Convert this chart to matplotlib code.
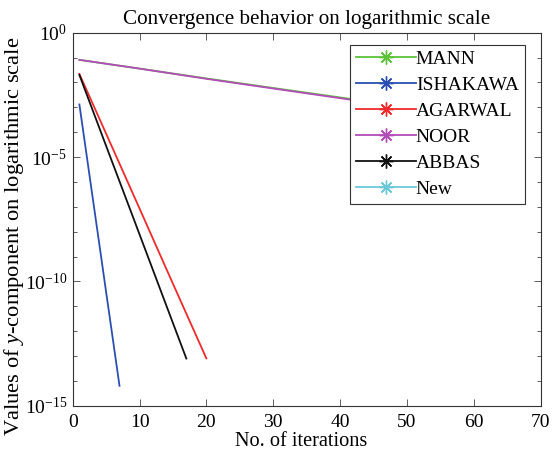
import matplotlib
matplotlib.use("Agg")
import matplotlib.pyplot as plt
import matplotlib.ticker as mticker
from matplotlib.lines import Line2D

plt.rcParams['font.family'] = ['Liberation Serif', 'DejaVu Serif']
plt.rcParams['mathtext.fontset'] = 'custom'
plt.rcParams['mathtext.rm'] = 'Liberation Serif'
plt.rcParams['mathtext.it'] = 'Liberation Serif:italic'

# Data
mann_n = [1, 10, 20, 30, 42, 60]
mann_y = [8.1e-2, 3.6e-2, 1.45e-2, 6.0e-3, 2.1e-3, 4.3e-4]

ishakawa_n = [1, 2, 3, 4, 5, 6, 7]
ishakawa_y = [1.3e-3, 1.7e-5, 2.2e-7, 2.9e-9, 3.7e-11, 4.9e-13, 6.3e-15]

agarwal_n = [1, 5, 10, 15, 20]
agarwal_y = [2.2e-2, 8.7e-5, 8.5e-8, 8.0e-11, 8.0e-14]

noor_n = [1, 10, 20, 30, 42, 60]
noor_y = [8.1e-2, 3.6e-2, 1.4e-2, 5.7e-3, 1.95e-3, 3.8e-4]

abbas_n = [1, 5, 9, 13, 17]
abbas_y = [2.0e-2, 2.8e-5, 4.0e-8, 5.6e-11, 7.9e-14]

new_n = [1, 2, 3]
new_y = [1e-16, 1e-18, 1e-20]

series = [
    ("MANN", mann_n, mann_y, "#5DC23A"),
    ("ISHAKAWA", ishakawa_n, ishakawa_y, "#2A4FB0"),
    ("AGARWAL", agarwal_n, agarwal_y, "#F02A2A"),
    ("NOOR", noor_n, noor_y, "#B24CB8"),
    ("ABBAS", abbas_n, abbas_y, "#111111"),
    ("New", new_n, new_y, "#6CC8D8"),
]

fig = plt.figure(figsize=(5.55, 4.53), dpi=100)
ax = fig.add_axes([0.131, 0.1044, 0.843, 0.8234])

for name, n, y, c in series:
    ax.plot(n, y, color=c, lw=1.3, label=name)

ax.set_yscale('log')
ax.set_xlim(0, 70)
ax.set_ylim(1e-15, 1e0)
ax.set_xticks(range(0, 71, 10))
ax.yaxis.set_major_locator(mticker.FixedLocator([1e-15, 1e-10, 1e-5, 1e0]))
ax.yaxis.set_minor_locator(mticker.FixedLocator([10.0**k for k in range(-15, 1)]))
ax.yaxis.set_minor_formatter(mticker.NullFormatter())
ax.tick_params(which='both', direction='in', top=True, right=True, labelsize=14)
ax.tick_params(axis='x', pad=6)
ax.tick_params(axis='y', pad=4)
ax.tick_params(which='major', length=5, width=0.6, color='#444444')
ax.tick_params(which='minor', length=3, width=0.6, color='#444444')
for s in ax.spines.values():
    s.set_linewidth(0.8)
    s.set_color('#333333')

ax.set_title("Convergence behavior on logarithmic scale", fontsize=15.2, pad=6)
ax.set_xlabel("No. of iterations", fontsize=14.6, labelpad=0)
ax.set_ylabel("Values of $y$-component on logarithmic scale", fontsize=16.2, labelpad=0)
ax.xaxis.set_label_coords(0.489, -0.07)
ax.yaxis.set_label_coords(-0.1, 0.455)

handles = [Line2D([0], [0], color=c, lw=1.3, marker=(8, 2, 0), markersize=10,
                  markeredgewidth=1.0) for _, _, _, c in series]
labels = [s[0] for s in series]
leg = ax.legend(handles, labels, loc='upper right', bbox_to_anchor=(0.966, 0.968),
                fontsize=14, handlelength=3.1, handletextpad=0.0, borderpad=0.3,
                labelspacing=0.43, fancybox=False, edgecolor='#333333', framealpha=1,
                borderaxespad=0)
leg.get_frame().set_linewidth(0.8)

fig.savefig("out.png", dpi=100)
